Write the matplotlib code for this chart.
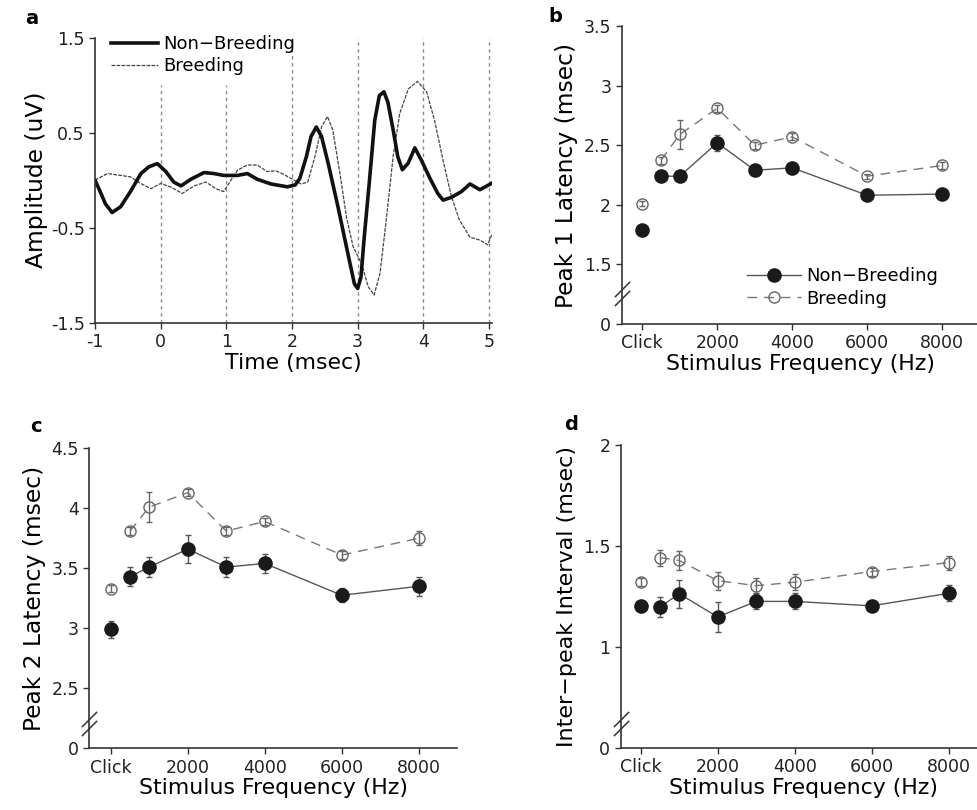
import numpy as np
import matplotlib
matplotlib.use("Agg")
from matplotlib import pyplot as plt

plt.rcParams['font.family'] = ['DejaVu Sans']

# ---- panel a: averaged ABR waveforms ----
t_nb = [-1.0, -0.94, -0.84, -0.74, -0.61, -0.46, -0.30, -0.18, -0.05, 0.08, 0.20, 0.31,
        0.46, 0.66, 0.81, 0.96, 1.17, 1.32, 1.47, 1.68, 1.93, 2.05, 2.12, 2.22, 2.29,
        2.37, 2.45, 2.55, 2.70, 2.85, 2.95, 3.0, 3.05, 3.10, 3.18, 3.26, 3.33, 3.40,
        3.46, 3.54, 3.61, 3.68, 3.77, 3.87, 3.97, 4.10, 4.22, 4.30, 4.43, 4.58, 4.71,
        4.86, 5.05]
amp_nb = [0.0, -0.09, -0.25, -0.34, -0.28, -0.12, 0.07, 0.14, 0.175, 0.09, -0.02, -0.06,
          0.01, 0.08, 0.07, 0.05, 0.05, 0.07, 0.01, -0.04, -0.07, -0.05, 0.02, 0.25, 0.46,
          0.56, 0.46, 0.18, -0.28, -0.77, -1.09, -1.14, -1.02, -0.60, 0.0, 0.63, 0.89, 0.93,
          0.82, 0.53, 0.25, 0.11, 0.18, 0.34, 0.21, 0.02, -0.14, -0.21, -0.18, -0.12, -0.04,
          -0.10, -0.03]

t_b = [-1.0, -0.81, -0.61, -0.46, -0.30, -0.15, 0.0, 0.15, 0.33, 0.51, 0.69, 0.84, 0.96,
       1.07, 1.17, 1.32, 1.47, 1.62, 1.75, 1.85, 1.98, 2.14, 2.24, 2.35, 2.45, 2.54, 2.62,
       2.73, 2.83, 2.93, 3.06, 3.16, 3.25, 3.34, 3.44, 3.54, 3.64, 3.77, 3.91, 4.05, 4.17,
       4.30, 4.43, 4.55, 4.71, 4.86, 4.98, 5.05]
amp_b = [0.0, 0.07, 0.05, 0.035, -0.035, -0.09, -0.035, -0.07, -0.14, -0.06, -0.02, -0.09,
         -0.12, 0.0, 0.105, 0.16, 0.16, 0.09, 0.10, 0.07, 0.02, -0.04, -0.02, 0.25, 0.56,
         0.67, 0.53, 0.07, -0.39, -0.70, -0.88, -1.12, -1.21, -0.98, -0.39, 0.25, 0.70, 0.96,
         1.04, 0.93, 0.63, 0.21, -0.18, -0.42, -0.60, -0.63, -0.68, -0.56]

# ---- panels b-d: latencies vs stimulus frequency ----
freq = [0, 500, 1000, 2000, 3000, 4000, 6000, 8000]   # 0 = click
freq_ticks = [0, 2000, 4000, 6000, 8000]
freq_labels = ['Click', '2000', '4000', '6000', '8000']

p1_nb = [1.79, 2.24, 2.24, 2.52, 2.29, 2.31, 2.08, 2.09]
p1_nb_err = [0.02, 0.02, 0.02, 0.065, 0.02, 0.02, 0.02, 0.02]
p1_b = [2.01, 2.375, 2.59, 2.81, 2.50, 2.57, 2.24, 2.33]
p1_b_err = [0.02, 0.03, 0.12, 0.03, 0.03, 0.03, 0.02, 0.03]

p2_nb = [2.99, 3.43, 3.51, 3.66, 3.51, 3.54, 3.275, 3.35]
p2_nb_err = [0.067, 0.08, 0.08, 0.12, 0.08, 0.08, 0.06, 0.08]
p2_b = [3.33, 3.81, 4.01, 4.13, 3.81, 3.89, 3.61, 3.75]
p2_b_err = [0.03, 0.03, 0.125, 0.03, 0.03, 0.03, 0.03, 0.06]

ipi_nb = [1.203, 1.197, 1.263, 1.148, 1.225, 1.225, 1.203, 1.265]
ipi_nb_err = [0.015, 0.048, 0.07, 0.075, 0.04, 0.04, 0.02, 0.04]
ipi_b = [1.323, 1.442, 1.428, 1.328, 1.303, 1.32, 1.373, 1.417]
ipi_b_err = [0.02, 0.04, 0.045, 0.045, 0.04, 0.04, 0.02, 0.035]

TICK = 12.5
XLAB = 15.8
YLAB = 16.8

fig = plt.figure(figsize=(9.77, 8.10), dpi=100)


def style_axes(ax):
    ax.spines['top'].set_visible(False)
    ax.spines['right'].set_visible(False)
    for s in ('left', 'bottom'):
        ax.spines[s].set_linewidth(1.2)
        ax.spines[s].set_color('#333333')
    ax.tick_params(direction='out', length=4, width=1, colors='#333333',
                   labelcolor='#222222', labelsize=TICK)


def add_break(ax, ylo, yhi):
    # little "//" on the y axis
    tr = ax.get_yaxis_transform()
    for yb in (ylo, yhi):
        ax.plot([0], [yb], transform=tr, marker=[(-1, -1), (1, 1)],
                markersize=11, color='#333333', mew=1.1, ls='none', clip_on=False)


def freq_panel(ax, nb, nb_err, br, br_err, ylo, yticks, ylabels, ylabel, ylab_size=YLAB):
    x = np.array(freq)
    ax.errorbar(x, br, yerr=br_err, fmt='none', ecolor='#666666', elinewidth=1,
                capsize=2.5, capthick=1, zorder=2)
    ax.errorbar(x, nb, yerr=nb_err, fmt='none', ecolor='#555555', elinewidth=1,
                capsize=2.5, capthick=1, zorder=2)
    ax.plot(x[1:], nb[1:], '-', color='#555555', lw=1, marker='o', ms=9.5,
            mfc='#1a1a1a', mec='#1a1a1a', zorder=3, label='Non\u2212Breeding')
    ax.plot(x[:1], nb[:1], 'o', ms=9.5, mfc='#1a1a1a', mec='#1a1a1a', zorder=3)
    ax.plot(x[1:], br[1:], color='#777777', lw=1, dashes=(7, 5), marker='o', ms=8,
            mfc='none', mec='#666666', mew=1, zorder=3, label='Breeding')
    ax.plot(x[:1], br[:1], 'o', ms=8, mfc='none', mec='#666666', mew=1, zorder=3)
    ax.set_xticks(freq_ticks)
    ax.set_xticklabels(freq_labels)
    ax.set_yticks(yticks)
    ax.set_yticklabels(ylabels)
    ax.set_ylim(ylo, yticks[-1])
    ax.set_xlabel('Stimulus Frequency (Hz)', fontsize=XLAB, labelpad=1)
    ax.set_ylabel(ylabel, fontsize=ylab_size, labelpad=4)
    style_axes(ax)


# ---- a ----
axa = fig.add_axes([0.0972, 0.6016, 0.4067, 0.3519])
for tv in [0, 1]:
    axa.plot([tv, tv], [-1.5, 1.0], ls=(0, (2.5, 2.5)), color='#8a8a8a', lw=1)
for tv in [2, 3, 4, 5]:
    axa.plot([tv, tv], [-1.5, 1.5], ls=(0, (2.5, 2.5)), color='#8a8a8a', lw=1)
axa.plot(t_b, amp_b, color='#444444', lw=0.9, ls=(0, (3, 1)), label='Breeding')
axa.plot(t_nb, amp_nb, color='#111111', lw=2.6, label='Non\u2212Breeding')
axa.set_xlim(-1, 5.05)
axa.set_ylim(-1.5, 1.5)
axa.set_xticks([-1, 0, 1, 2, 3, 4, 5])
axa.set_yticks([-1.5, -0.5, 0.5, 1.5])
axa.set_yticklabels(['-1.5', '-0.5', '0.5', '1.5'])
axa.set_xticklabels(['-1', '0', '1', '2', '3', '4', '5'])
axa.set_xlabel('Time (msec)', fontsize=XLAB, labelpad=1)
axa.set_ylabel('Amplitude (uV)', fontsize=YLAB, labelpad=2)
style_axes(axa)
h, l = axa.get_legend_handles_labels()
axa.legend(h[::-1], l[::-1], loc='upper left', bbox_to_anchor=(0.0, 1.065),
           frameon=False, fontsize=13, handlelength=2.6, handletextpad=0.3,
           labelspacing=0.2)

# ---- b ----
axb = fig.add_axes([0.6363, 0.6, 0.3665, 0.3679])
freq_panel(axb, p1_nb, p1_nb_err, p1_b, p1_b_err, 1.0,
           [1.0, 1.5, 2.0, 2.5, 3.0, 3.5], ['0', '1.5', '2', '2.5', '3', '3.5'],
           'Peak 1 Latency (msec)')
axb.set_xlim(-550, 9000)
add_break(axb, 1.22, 1.29)
axb.legend(loc='lower right', bbox_to_anchor=(0.93, 0.0), frameon=False,
           fontsize=13, handlelength=3.0, handletextpad=0.3, labelspacing=0.25)

# ---- c ----
axc = fig.add_axes([0.0914, 0.0762, 0.3767, 0.3704])
freq_panel(axc, p2_nb, p2_nb_err, p2_b, p2_b_err, 2.0,
           [2.0, 2.5, 3.0, 3.5, 4.0, 4.5], ['0', '2.5', '3', '3.5', '4', '4.5'],
           'Peak 2 Latency (msec)')
axc.set_xlim(-556, 9000)
add_break(axc, 2.17, 2.24)

# ---- d ----
axd = fig.add_axes([0.6353, 0.0769, 0.375, 0.3737])
freq_panel(axd, ipi_nb, ipi_nb_err, ipi_b, ipi_b_err, 0.5,
           [0.5, 1.0, 1.5, 2.0], ['0', '1', '1.5', '2'],
           'Inter\u2212peak Interval (msec)', ylab_size=16.0)
axd.set_xlim(-520, 9000)
add_break(axd, 0.6, 0.64)

# panel letters
fig.text(25 / 977, 1 - 18 / 810, 'a', fontsize=14, fontweight='bold', va='center')
fig.text(548 / 977, 1 - 16 / 810, 'b', fontsize=14, fontweight='bold', va='center')
fig.text(30 / 977, 1 - 427 / 810, 'c', fontsize=14, fontweight='bold', va='center')
fig.text(564 / 977, 1 - 424 / 810, 'd', fontsize=14, fontweight='bold', va='center')

plt.savefig('out.png', dpi=100)
